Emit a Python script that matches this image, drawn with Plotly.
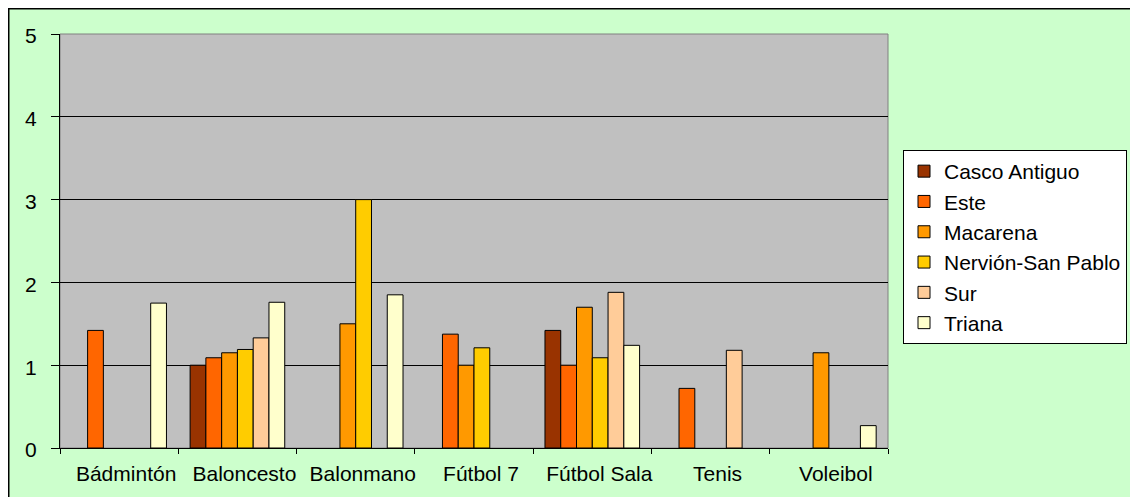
import plotly.graph_objects as go

categories = ["Bádmintón", "Baloncesto", "Balonmano", "Fútbol 7", "Fútbol Sala", "Tenis", "Voleibol"]
series_names = ["Casco Antiguo", "Este", "Macarena", "Nervión-San Pablo", "Sur", "Triana"]
casco_antiguo = [None, 1.0, None, None, 1.42, None, None]
este = [1.42, 1.09, None, 1.375, 1.0, 0.72, None]
macarena = [None, 1.15, 1.5, 1.0, 1.7, None, 1.15]
nervion = [None, 1.19, 3.0, 1.21, 1.09, None, None]
sur = [None, 1.33, None, None, 1.88, 1.18, None]
triana = [1.75, 1.76, 1.85, None, 1.24, None, 0.27]
colors = ["#993300", "#FF6600", "#FF9900", "#FFCC00", "#FFCC99", "#FFFFCC"]
y_ticks = [0, 1, 2, 3, 4, 5]

all_values = [casco_antiguo, este, macarena, nervion, sur, triana]

fig = go.Figure()
for name, vals, col in zip(series_names, all_values, colors):
    fig.add_trace(go.Bar(
        x=categories, y=vals, name=name,
        marker=dict(color=col, line=dict(color="black", width=1)),
    ))

W, H = 1138, 497
L, R, T, B = 52, 258, 26, 57
pw, ph = W - L - R, H - T - B

fig.update_layout(
    width=W, height=H,
    margin=dict(l=L, r=R, t=T, b=B, pad=0),
    paper_bgcolor="#CCFFCC",
    plot_bgcolor="#C0C0C0",
    barmode="group", bargap=0.2, bargroupgap=0,
    font=dict(family="Liberation Sans, Arial, sans-serif", size=21, color="black"),
    legend=dict(
        x=(895 - L) / pw, y=(H - B - 142) / ph, xanchor="left", yanchor="top",
        bgcolor="white", bordercolor="black", borderwidth=1,
        font=dict(size=21), tracegroupgap=0, itemwidth=30,
    ),
    xaxis=dict(
        showline=True, linecolor="black", linewidth=1,
        ticks="outside", tickson="boundaries", ticklen=5, tickcolor="black",
        showgrid=False, ticklabelshift=7, ticklabelstandoff=7,
    ),
    yaxis=dict(
        range=[0, 5], tickvals=y_ticks, showline=True, linecolor="black", linewidth=1,
        ticks="outside", ticklen=8, tickcolor="black", ticklabelstandoff=10,
        ticklabelshift=2,
        showgrid=True, gridcolor="black", gridwidth=1, zeroline=False,
    ),
    shapes=[
        dict(type="rect", xref="paper", yref="paper",
             x0=0, x1=1, y0=0, y1=1, line=dict(color="#808080", width=1), layer="below"),
        dict(type="line", xref="paper", yref="paper",
             x0=-L / pw, x1=(W - L) / pw, y0=1 + T / ph, y1=1 + T / ph,
             line=dict(color="black", width=3)),
        dict(type="line", xref="paper", yref="paper",
             x0=-L / pw, x1=-L / pw, y0=-B / ph, y1=1 + T / ph,
             line=dict(color="black", width=3)),
    ],
)

fig.write_html("out.html")
